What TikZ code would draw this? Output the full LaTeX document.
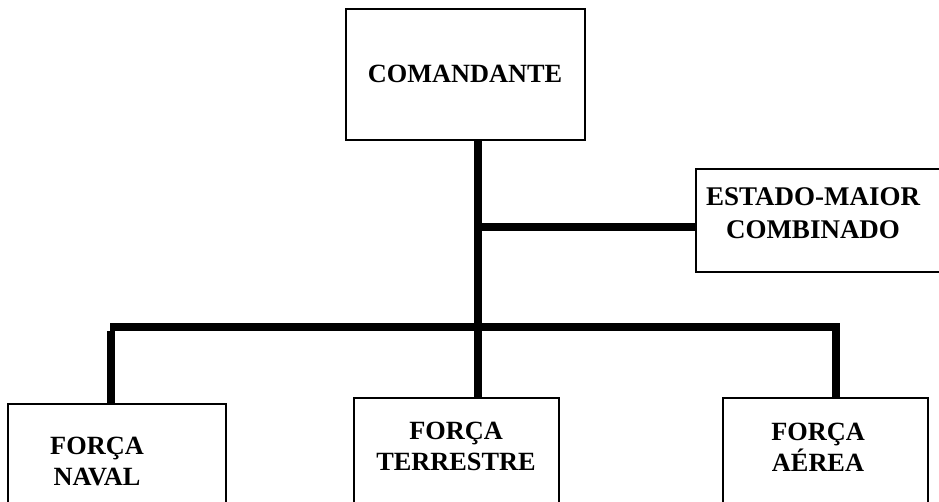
\documentclass[tikz,border=0pt]{standalone}
\usepackage{fontspec}
\setmainfont{Liberation Serif}
\begin{document}
\begin{tikzpicture}[x=1pt,y=-1pt,
  box/.style={draw=black,line width=2pt,rectangle,inner sep=0pt},
  conn/.style={draw=black,line width=8pt},
  lbl/.style={anchor=base,inner sep=0pt,font=\bfseries\fontsize{26.3}{31}\selectfont},
  lblb/.style={anchor=base,inner sep=0pt,font=\bfseries\fontsize{27}{33.3}\selectfont}]
\useasboundingbox (0,0) rectangle (939,501);
\clip (0,0) rectangle (939,501);
\fill[white] (0,0) rectangle (939,501);
% boxes
\node[box,minimum width=239pt,minimum height=131pt] (com) at (465.5,74.5) {};
\node[box,minimum width=270pt,minimum height=103pt] (emc) at (831,220.5) {};
\node[box,minimum width=218pt,minimum height=140pt] (naval) at (117,474) {};
\node[box,minimum width=205pt,minimum height=140pt] (terr) at (456.5,468) {};
\node[box,minimum width=205pt,minimum height=140pt] (aer) at (825.5,468) {};
% labels
\node[lbl] (tcom) at (465,82.3) {COMANDANTE};
\node[lblb] (temc) at (813,205) {\begin{tabular}[t]{@{}c@{}}ESTADO-MAIOR\\COMBINADO\end{tabular}};
\node[lbl] (tnav) at (97,454.3) {\begin{tabular}[t]{@{}c@{}}FORÇA\\NAVAL\end{tabular}};
\node[lbl] (tter) at (456,439.5) {\begin{tabular}[t]{@{}c@{}}FORÇA\\TERRESTRE\end{tabular}};
\node[lbl] (taer) at (818,440) {\begin{tabular}[t]{@{}c@{}}FORÇA\\AÉREA\end{tabular}};
% connectors
\coordinate (spine) at (478,0);
\coordinate (j1) at (478,227);
\coordinate (busL) at (110,327);
\coordinate (busR) at (836,327);
\coordinate (dropL) at (111,331);
\draw[conn] (com.south -| spine) -- (terr.north -| spine);
\draw[conn] (j1) -- (emc.west |- j1);
\draw[conn] (busL) -- (busR) -- (aer.north -| busR);
\draw[conn] (dropL) -- (naval.north -| dropL);
\end{tikzpicture}
\end{document}
